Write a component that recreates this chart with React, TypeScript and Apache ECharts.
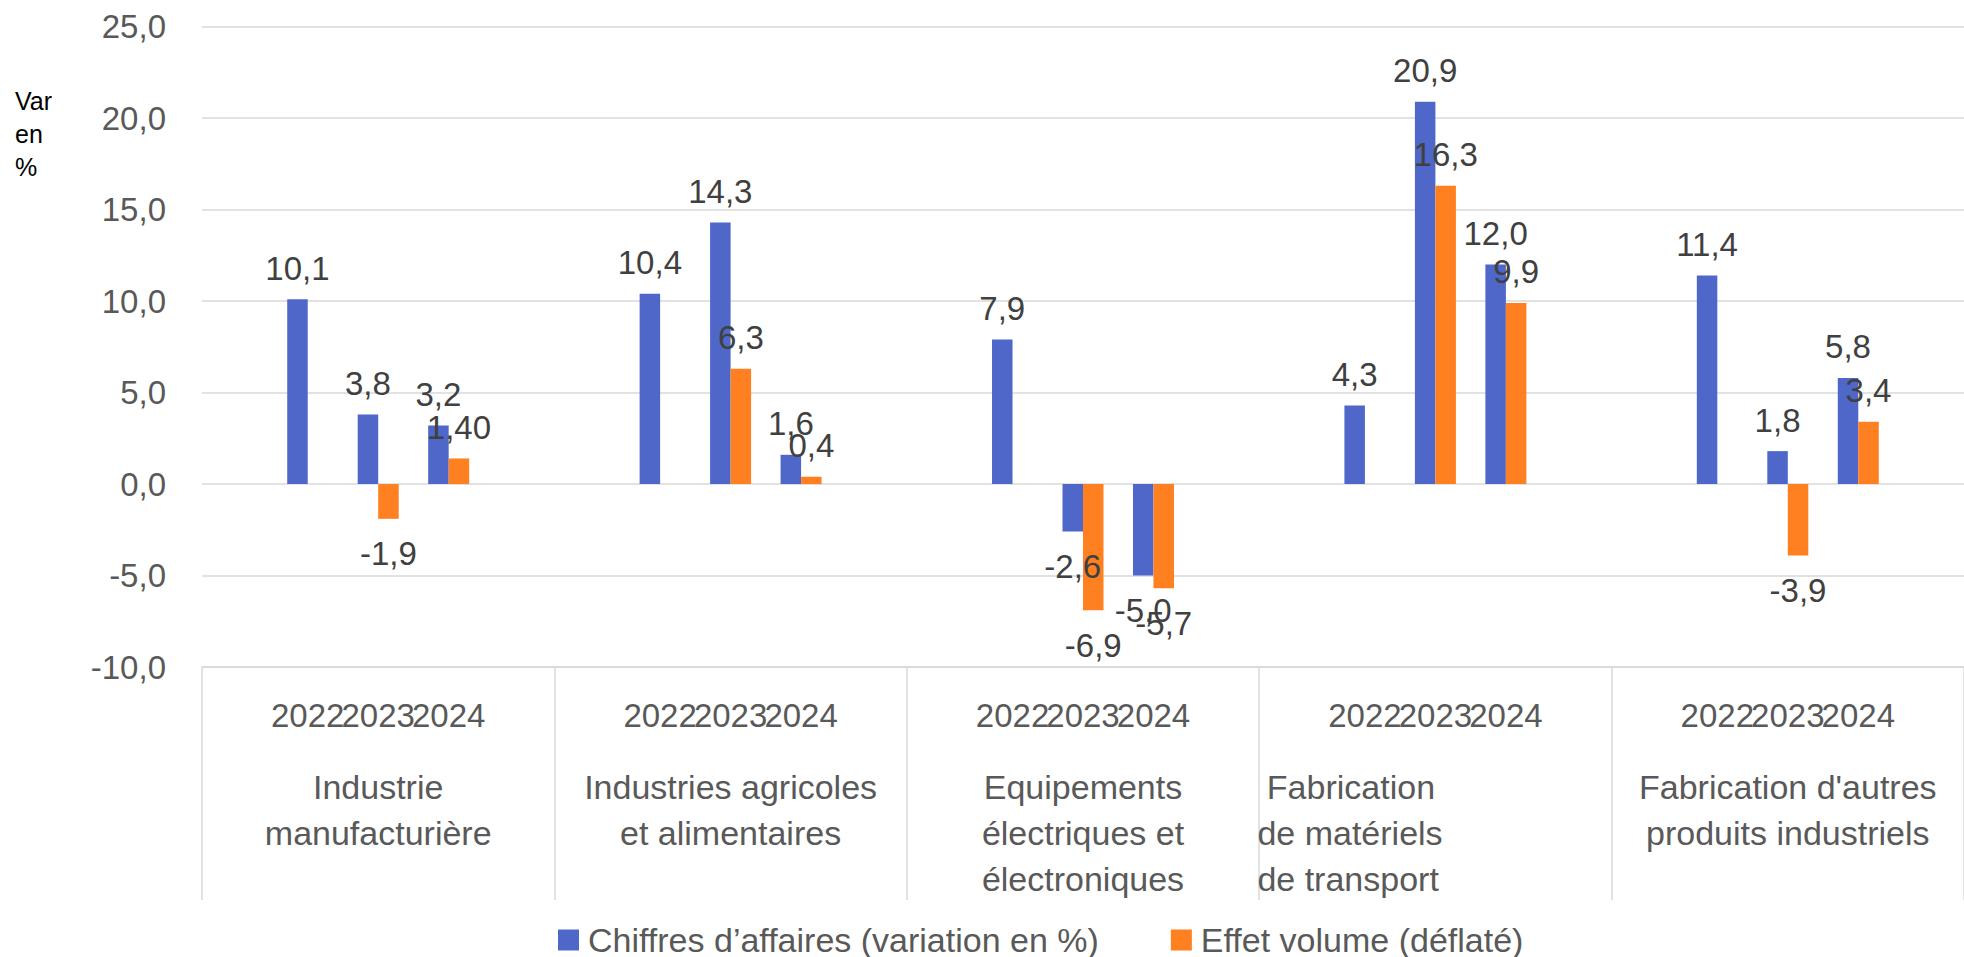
import React, { useEffect, useRef } from 'react';
import * as echarts from 'echarts';

// ---- Data ----
const groupNames = [
  'Industrie\nmanufacturière',
  'Industries agricoles\net alimentaires',
  'Equipements\nélectriques et\nélectroniques',
  ' Fabrication\nde matériels\nde transport',
  "Fabrication d'autres\nproduits industriels",
];
const years = ['2022', '2023', '2024'];
const seriesNames = ['Chiffres d’affaires (variation en %)', 'Effet volume (déflaté)'];
// one value per (group, year), in group order
const chiffresAffaires = [10.1, 3.8, 3.2, 10.4, 14.3, 1.6, 7.9, -2.6, -5.0, 4.3, 20.9, 12.0, 11.4, 1.8, 5.8];
const effetVolume: (number | null)[] = [null, -1.9, 1.4, null, 6.3, 0.4, null, -6.9, -5.7, null, 16.3, 9.9, null, -3.9, 3.4];
const effetVolumeLabels = ['', '-1,9', '1,40', '', '6,3', '0,4', '', '-6,9', '-5,7', '', '16,3', '9,9', '', '-3,9', '3,4'];
const yMin = -10;
const yMax = 25;
const yInterval = 5;
const yAxisTitle = 'Var\nen\n%';

const FONT = "'Liberation Sans', Arial, sans-serif";
const BLUE = '#4E67C8';
const ORANGE = '#FF8021';
const GRID_COLOR = '#D9D9D9';

const fmt = (v: number) => v.toFixed(1).replace('.', ',');

export default function App() {
  const ref = useRef<HTMLDivElement>(null);

  useEffect(() => {
    if (!ref.current) return;
    const chart = echarts.init(ref.current, null, { renderer: 'svg' });

    const labelItem = (v: number, text: string) => ({
      value: v,
      label: {
        position: v < 0 ? 'bottom' : 'top',
        distance: v < 0 ? 17 : 13,
        formatter: text,
      },
    });

    const slotLabels: string[] = [];
    const caData: any[] = [];
    const volData: any[] = [];
    groupNames.forEach((_, g) => {
      slotLabels.push('');
      caData.push(null);
      volData.push(null);
      years.forEach((y, i) => {
        const k = g * years.length + i;
        slotLabels.push(y);
        caData.push(labelItem(chiffresAffaires[k], fmt(chiffresAffaires[k])));
        const vv = effetVolume[k];
        volData.push(vv == null ? null : labelItem(vv, effetVolumeLabels[k]));
      });
      slotLabels.push('');
      caData.push(null);
      volData.push(null);
    });

    const seriesLabel = {
      show: true,
      fontSize: 33,
      lineHeight: 36,
      color: '#404040',
      fontFamily: FONT,
    };

    chart.setOption({
      animation: false,
      backgroundColor: '#ffffff',
      textStyle: { fontFamily: FONT },
      grid: { left: 202, top: 26.7, width: 1778, height: 640.3, containLabel: false },
      legend: {
        data: seriesNames,
        left: 553,
        top: 917,
        icon: 'rect',
        itemWidth: 21,
        itemHeight: 21,
        itemGap: 72,
        textStyle: { fontSize: 34, lineHeight: 36, color: '#595959', fontFamily: FONT, padding: [0, 0, 0, 4] },
      },
      graphic: [
        {
          type: 'text',
          left: 15,
          top: 84,
          style: { text: yAxisTitle, fontSize: 25, lineHeight: 33, fill: '#000000', fontFamily: FONT },
        },
      ],
      xAxis: [
        {
          type: 'category',
          data: slotLabels,
          position: 'bottom',
          axisLine: { show: true, onZero: false, lineStyle: { color: GRID_COLOR, width: 1.5 } },
          axisTick: { show: false },
          axisLabel: {
            interval: 0,
            margin: 30,
            fontSize: 33,
            lineHeight: 36,
            color: '#595959',
            fontFamily: FONT,
          },
          splitLine: { show: false },
        },
        {
          type: 'category',
          data: groupNames,
          position: 'bottom',
          axisLine: { show: false, onZero: false },
          axisTick: { show: true, length: 233, interval: 0, lineStyle: { color: GRID_COLOR, width: 1.5 } },
          axisLabel: {
            interval: 0,
            margin: 97,
            fontSize: 34,
            lineHeight: 46,
            color: '#595959',
            fontFamily: FONT,
            formatter: (value: string, index: number) =>
              index === 3
                ? value.split('\n').map((l) => `{l|${l}}`).join('\n')
                : value,
            rich: {
              l: { width: 356, align: 'left', fontSize: 34, lineHeight: 46, color: '#595959', fontFamily: FONT },
            },
          },
          splitLine: { show: false },
        },
      ],
      yAxis: {
        type: 'value',
        min: yMin,
        max: yMax,
        interval: yInterval,
        axisLine: { show: false },
        axisTick: { show: false },
        splitLine: { show: true, lineStyle: { color: GRID_COLOR, width: 1.5 } },
        axisLabel: {
          margin: 36,
          fontSize: 33,
          color: '#595959',
          fontFamily: FONT,
          formatter: (v: number) => fmt(v),
        },
      },
      series: [
        {
          name: seriesNames[0],
          type: 'bar',
          xAxisIndex: 0,
          data: caData,
          barWidth: 20.5,
          barGap: '0%',
          itemStyle: { color: BLUE },
          label: seriesLabel,
        },
        {
          name: seriesNames[1],
          type: 'bar',
          xAxisIndex: 0,
          data: volData,
          barWidth: 20.5,
          barGap: '0%',
          itemStyle: { color: ORANGE },
          label: seriesLabel,
        },
      ],
    });

    return () => chart.dispose();
  }, []);

  return (
    <div
      ref={ref}
      style={{ position: 'fixed', left: 0, top: 0, width: 1964, height: 957, overflow: 'hidden', background: '#fff' }}
    />
  );
}
